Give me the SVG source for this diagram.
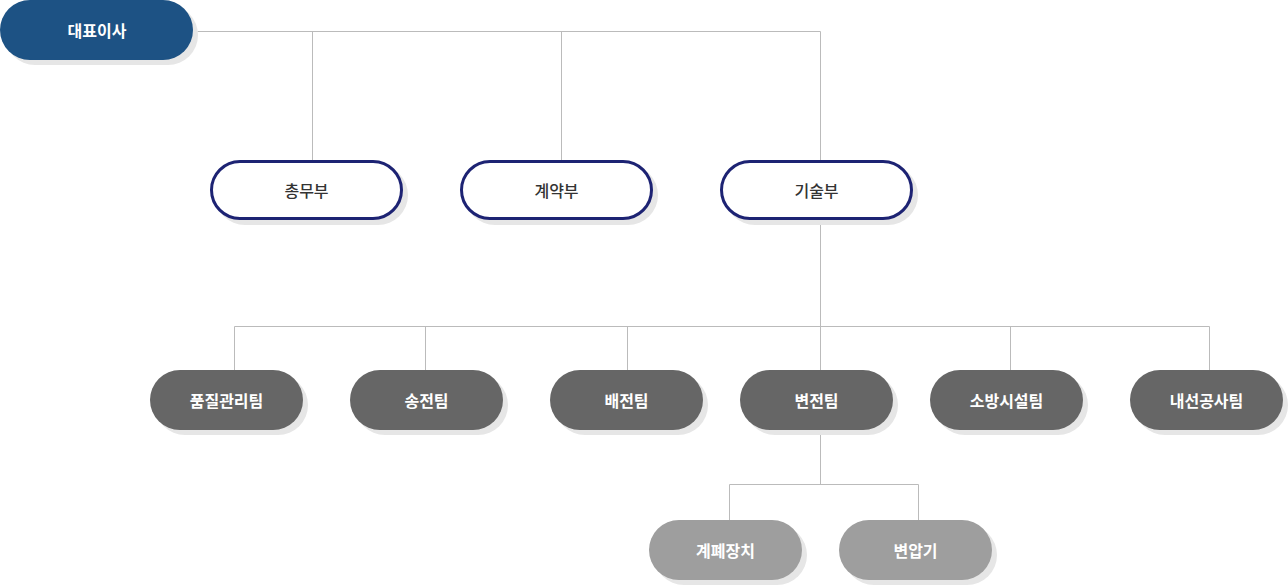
<svg xmlns="http://www.w3.org/2000/svg" width="1288" height="586" viewBox="0 0 1288 586">
<style>
.sh{fill:#e6e6e6}
.ceo{fill:#1d5284}
.dept{fill:#ffffff;stroke:#1d2373;stroke-width:3}
.team{fill:#666666}
.sub{fill:#9e9e9e}
.t{font-family:"Noto Sans CJK KR","Noto Sans",sans-serif;font-size:16px;text-anchor:middle;dominant-baseline:central}
.tw{fill:#ffffff;font-weight:bold}
.td{fill:#333333;font-weight:500}
.c{fill:none;stroke:#bbbbbb;stroke-width:1}
</style>
<g id="connectors">
<path class="c" d="M197.5 31.5H820.5V160M312.5 31.5V160M561.5 31.5V160"/>
<path class="c" d="M820.5 220V370M234.5 370V326.5H1209.5V370M425.5 326.5V370M627.5 326.5V370M1010.5 326.5V370"/>
<path class="c" d="M820.5 430V484.5M729.5 520V484.5H918.5V520"/>
</g>
<g id="n-ceo">
<rect class="sh" x="5" y="5" width="193" height="60" rx="30"/>
<rect class="ceo" x="0" y="0" width="193" height="60" rx="30"/>
<text class="t tw" x="97" y="30">대표이사</text>
</g>
<g id="n-1">
<rect class="sh" x="215" y="165" width="193" height="60" rx="30"/>
<rect class="dept" x="211.5" y="161.5" width="190" height="57" rx="28.5"/>
<text class="t td" x="306.5" y="190">총무부</text>
</g>
<g id="n-2">
<rect class="sh" x="465" y="165" width="193" height="60" rx="30"/>
<rect class="dept" x="461.5" y="161.5" width="190" height="57" rx="28.5"/>
<text class="t td" x="556.5" y="190">계약부</text>
</g>
<g id="n-3">
<rect class="sh" x="725" y="165" width="193" height="60" rx="30"/>
<rect class="dept" x="721.5" y="161.5" width="190" height="57" rx="28.5"/>
<text class="t td" x="816.5" y="190">기술부</text>
</g>
<g id="t-1">
<rect class="sh" x="155" y="375" width="153" height="60" rx="30"/>
<rect class="team" x="150" y="370" width="153" height="60" rx="30"/>
<text class="t tw" x="226.5" y="400">품질관리팀</text>
</g>
<g id="t-2">
<rect class="sh" x="355" y="375" width="153" height="60" rx="30"/>
<rect class="team" x="350" y="370" width="153" height="60" rx="30"/>
<text class="t tw" x="426.5" y="400">송전팀</text>
</g>
<g id="t-3">
<rect class="sh" x="555" y="375" width="153" height="60" rx="30"/>
<rect class="team" x="550" y="370" width="153" height="60" rx="30"/>
<text class="t tw" x="626.5" y="400">배전팀</text>
</g>
<g id="t-4">
<rect class="sh" x="745" y="375" width="153" height="60" rx="30"/>
<rect class="team" x="740" y="370" width="153" height="60" rx="30"/>
<text class="t tw" x="816.5" y="400">변전팀</text>
</g>
<g id="t-5">
<rect class="sh" x="935" y="375" width="153" height="60" rx="30"/>
<rect class="team" x="930" y="370" width="153" height="60" rx="30"/>
<text class="t tw" x="1006.5" y="400">소방시설팀</text>
</g>
<g id="t-6">
<rect class="sh" x="1135" y="375" width="153" height="60" rx="30"/>
<rect class="team" x="1130" y="370" width="153" height="60" rx="30"/>
<text class="t tw" x="1206.5" y="400">내선공사팀</text>
</g>
<g id="s-1">
<rect class="sh" x="654" y="525" width="153" height="60" rx="30"/>
<rect class="sub" x="649" y="520" width="153" height="60" rx="30"/>
<text class="t tw" x="725.5" y="550">계폐장치</text>
</g>
<g id="s-2">
<rect class="sh" x="844" y="525" width="153" height="60" rx="30"/>
<rect class="sub" x="839" y="520" width="153" height="60" rx="30"/>
<text class="t tw" x="915.5" y="550">변압기</text>
</g>
</svg>
